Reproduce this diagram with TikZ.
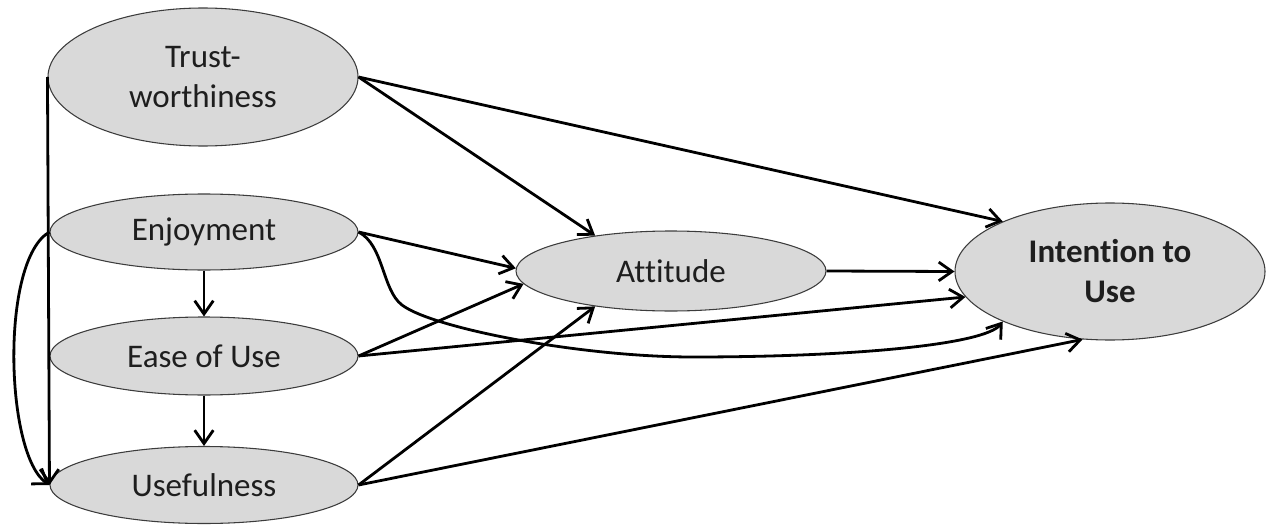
\documentclass[tikz,border=0pt]{standalone}
\usepackage{fontspec}
\setmainfont{Carlito}[Ligatures=NoCommon]
\usetikzlibrary{shapes.geometric,arrows.meta}
\definecolor{ellfill}{RGB}{217,217,217}
\definecolor{ellline}{RGB}{60,60,60}
\definecolor{txt}{RGB}{30,30,30}
\begin{document}
\begin{tikzpicture}[x=0.75pt,y=-0.75pt,
  ell/.style={ellipse, draw=ellline, line width=0.8pt, fill=ellfill, inner sep=0pt,
    align=center, font=\fontsize{24.75}{30}\selectfont, text=txt},
  conn/.style={line width=2.1pt, -{Straight Barb[length=10pt,width=14pt]}}]
\useasboundingbox (0,0) rectangle (1271,528);
\node[ell, minimum width=232.5pt, minimum height=103.5pt] (trust) at (203,77) {Trust-\\worthiness};
\node[ell, minimum width=231pt, minimum height=57pt] (enj) at (204,232) {Enjoyment};
\node[ell, minimum width=231pt, minimum height=58.5pt] (ease) at (204,356) {Ease of Use};
\node[ell, minimum width=231pt, minimum height=57.75pt] (use) at (204,485) {Usefulness};
\node[ell, minimum width=232.5pt, minimum height=60pt] (att) at (671,271) {Attitude};
\node[ell, minimum width=232.5pt, minimum height=102.75pt, font=\fontsize{24.75}{30}\selectfont\bfseries] (int) at (1110,271.5) {Intention to\\Use};

\draw[conn] (trust.east) -- (att.155);
\draw[conn] (trust.east) -- (int.155);
\draw[conn] (enj.east) -- (att.179);
\draw[conn] (enj.east) .. controls (384,245) and (382,290) .. (402,305)
  .. controls (432,328) and (580,357) .. (693,357)
  .. controls (850,357) and (985,345) .. (int.205);
\draw[conn] (ease.east) -- (att.185);
\draw[conn] (ease.east) -- (int.190);
\draw[conn] (use.east) -- (att.205);
\draw[conn] (use.east) -- (int.248);
\draw[conn] (att.east) -- (int.west);
\draw[conn] (enj.south) -- (ease.north);
\draw[conn] (ease.south) -- (use.north);
\draw[conn] (trust.west) -- (use.west);
\draw[conn] (enj.west) .. controls (0,260) and (5,455) .. (use.west);
\end{tikzpicture}
\end{document}
